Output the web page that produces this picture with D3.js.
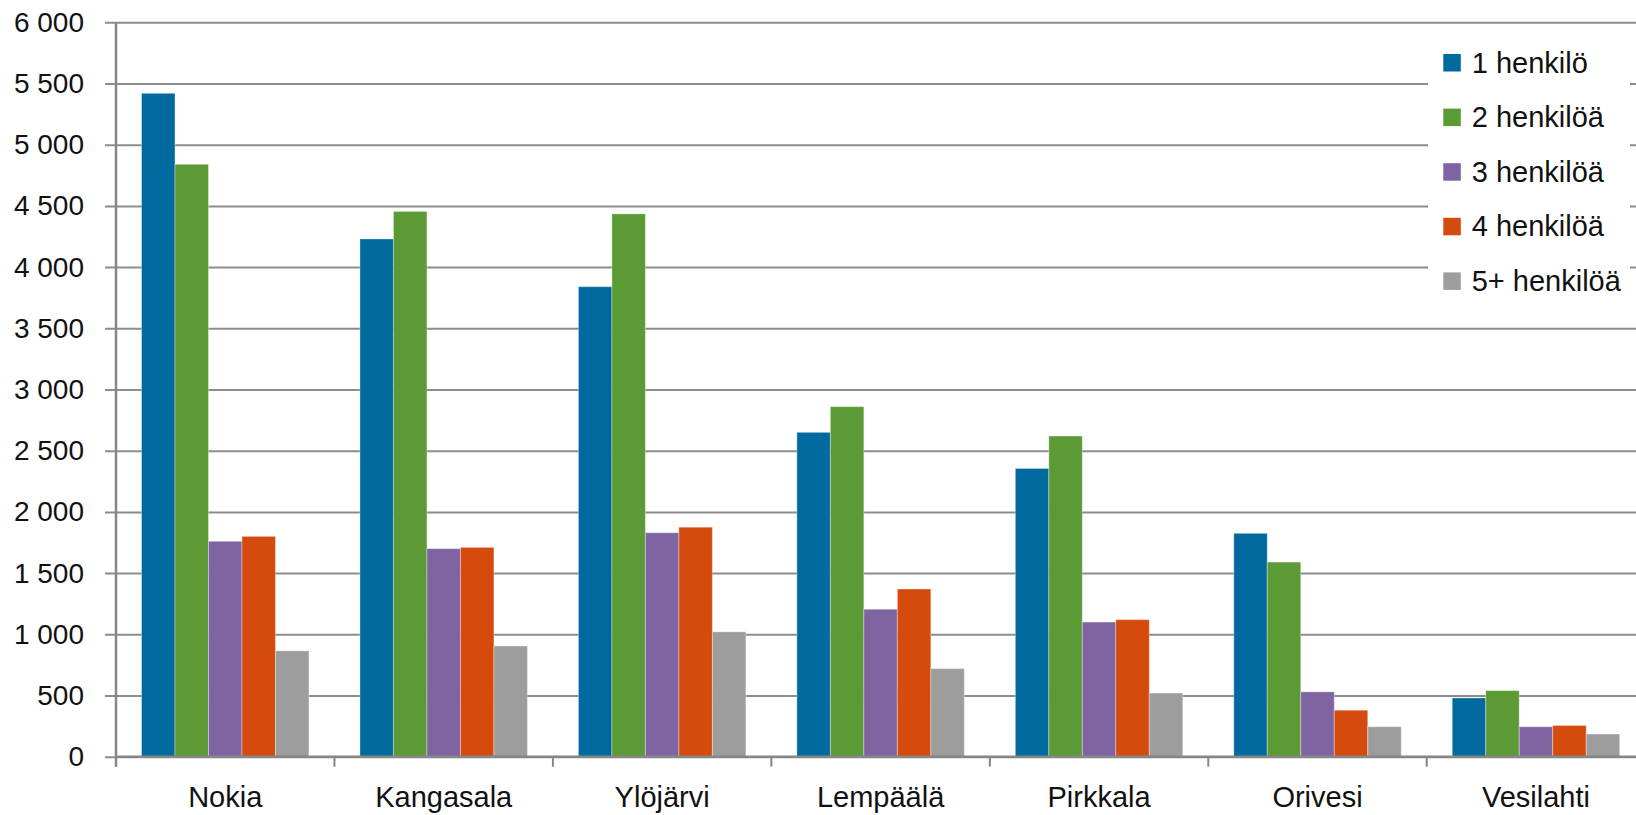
<!DOCTYPE html>
<html>
<head>
<meta charset="utf-8">
<script src="https://cdn.jsdelivr.net/npm/d3@7"></script>
<style>
  html, body { margin: 0; padding: 0; background: #fff; }
  svg { display: block; font-family: "Liberation Sans", Arial, sans-serif; }
</style>
</head>
<body>
<div id="chart"></div>
<script>
// Kotitaloudet koon mukaan, kunnittain
const categories = ['Nokia', 'Kangasala', 'Ylöjärvi', 'Lempäälä', 'Pirkkala', 'Orivesi', 'Vesilahti'];
const seriesNames = ['1 henkilö', '2 henkilöä', '3 henkilöä', '4 henkilöä', '5+ henkilöä'];
const seriesColors = ['#006a9f', '#5c9a36', '#8064a2', '#d54b0d', '#9d9d9d'];

const h1 = [5420, 4230, 3840, 2650, 2355, 1825, 480];
const h2 = [4840, 4455, 4435, 2860, 2620, 1590, 540];
const h3 = [1760, 1700, 1830, 1205, 1100, 530, 245];
const h4 = [1800, 1710, 1875, 1370, 1120, 380, 255];
const h5 = [865, 905, 1020, 720, 520, 245, 185];
const seriesValues = [h1, h2, h3, h4, h5];

const yTicks = [0, 500, 1000, 1500, 2000, 2500, 3000, 3500, 4000, 4500, 5000, 5500, 6000];

var svgWidth = 1636;
var svgHeight = 815;

var margin = { top: 22.3, left: 116 };
var plotHeight = 734.4;
var plotWidth = 1529.2;   // last band runs past the picture edge, as in the original

var svg = d3.select('#chart')
    .append('svg')
    .attr('width', svgWidth)
    .attr('height', svgHeight);

var chartGroup = svg.append('g')
    .attr('transform', `translate(${margin.left}, ${margin.top})`);

var x0 = d3.scaleBand()
    .domain(categories)
    .range([0, plotWidth]);

var inset = 25.5;
var x1 = d3.scaleBand()
    .domain(seriesNames)
    .range([inset, x0.bandwidth() - inset]);

var y = d3.scaleLinear()
    .domain([0, 6000])
    .range([plotHeight, 0]);

var fi = d3.formatLocale({ decimal: ',', thousands: ' ', grouping: [3], currency: ['', ' €'] });
var fmt = fi.format(',d');

// gridlines + y labels
var yAxis = chartGroup.append('g')
    .attr('transform', 'translate(-11, 0)')
    .call(d3.axisLeft(y)
        .tickValues(yTicks)
        .tickSize(-(plotWidth + 11))
        .tickPadding(21)
        .tickFormat(fmt));
yAxis.select('.domain').remove();
yAxis.selectAll('line').attr('stroke', '#8c8c8c').attr('stroke-width', 2);
yAxis.selectAll('text')
    .attr('font-size', 28)
    .attr('fill', '#111')
    .attr('font-family', '"Liberation Sans", Arial, sans-serif');

// legend box sits over the gridlines
var legendX = 1428 - margin.left;
var legend = chartGroup.append('g');
legend.append('rect')
    .attr('x', legendX)
    .attr('y', 30 - margin.top)
    .attr('width', 202)
    .attr('height', 270)
    .attr('fill', '#fff');

// bars
var groups = chartGroup.selectAll('.cat')
    .data(categories)
    .enter()
    .append('g')
    .attr('class', 'cat')
    .attr('transform', d => `translate(${x0(d)}, 0)`);

groups.selectAll('rect')
    .data((d, i) => seriesNames.map((s, j) => ({ s: s, v: seriesValues[j][i], c: seriesColors[j] })))
    .enter()
    .append('rect')
    .attr('x', d => x1(d.s))
    .attr('width', x1.bandwidth())
    .attr('y', d => y(d.v))
    .attr('height', d => plotHeight - y(d.v))
    .attr('fill', d => d.c)
    .attr('stroke', '#ffffff')
    .attr('stroke-opacity', 0.35)
    .attr('stroke-width', 1);

// y axis line
chartGroup.append('line')
    .attr('x1', 0).attr('x2', 0)
    .attr('y1', 0).attr('y2', plotHeight + 10)
    .attr('stroke', '#868686')
    .attr('stroke-width', 2.5);

// x axis
var xAxis = chartGroup.append('g')
    .attr('transform', `translate(0, ${plotHeight})`)
    .call(d3.axisBottom(x0).tickSize(0).tickPadding(30));
xAxis.select('.domain').remove();
xAxis.selectAll('text')
    .attr('font-size', 29)
    .attr('fill', '#111')
    .attr('font-family', '"Liberation Sans", Arial, sans-serif');

xAxis.append('line')
    .attr('x1', 0).attr('x2', plotWidth)
    .attr('y1', 0).attr('y2', 0)
    .attr('stroke', '#868686')
    .attr('stroke-width', 2.5);

xAxis.selectAll('.bound')
    .data(categories)
    .enter()
    .append('line')
    .attr('class', 'bound')
    .attr('x1', d => x0(d)).attr('x2', d => x0(d))
    .attr('y1', 0).attr('y2', 10)
    .attr('stroke', '#868686')
    .attr('stroke-width', 2);

// legend entries
var rows = legend.selectAll('.row')
    .data(seriesNames)
    .enter()
    .append('g')
    .attr('class', 'row')
    .attr('transform', (d, i) => `translate(${1443.3 - margin.left}, ${54 - margin.top + i * 54.6})`);

rows.append('rect')
    .attr('width', 17.5)
    .attr('height', 17.5)
    .attr('fill', (d, i) => seriesColors[i]);

rows.append('text')
    .attr('x', 28.4)
    .attr('y', 18.5)
    .attr('font-size', 29)
    .attr('fill', '#111')
    .text(d => d);
</script>
</body>
</html>
